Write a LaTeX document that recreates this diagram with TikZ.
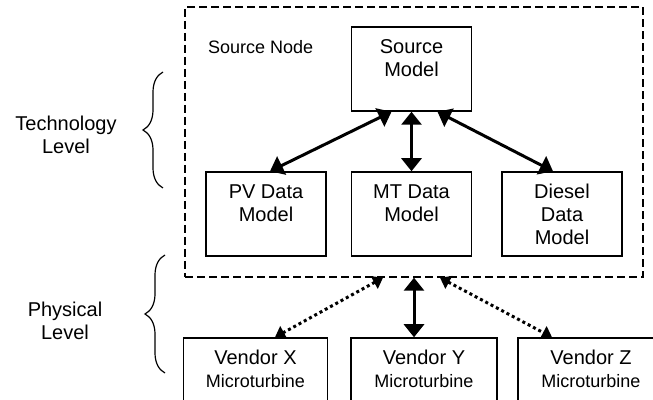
\documentclass[tikz,border=0pt]{standalone}
\usepackage{fontspec}
\setmainfont{Liberation Sans}
\usetikzlibrary{arrows.meta,decorations.pathreplacing}

\begin{document}
\begin{tikzpicture}[x=0.5pt, y=-0.5pt, every node/.style={font=\fontsize{10}{11.5}\selectfont},
	model/.style={draw, line width=0.75pt, minimum width=60pt, minimum height=42pt, inner sep=0pt},
	vendor/.style={draw, line width=0.75pt, minimum width=72pt, minimum height=41pt, inner sep=0pt},
	txt/.style={anchor=north, align=center, yshift=-3pt},
	small/.style={font=\fontsize{9}{10}\selectfont},
	link/.style={line width=1.5pt, {Triangle[width=10pt,length=6.5pt]}-{Triangle[width=10pt,length=6.5pt]}},
	dlink/.style={line width=1.5pt, dash pattern=on 1.5pt off 1.5pt, {Triangle[width=7pt,length=5pt]}-{Triangle[width=7pt,length=5pt]}},
	brc/.style={decorate, decoration={brace, amplitude=10pt}, line width=0.6pt}]
	\useasboundingbox (0,0) rectangle (653,400);
	\clip (0,0) rectangle (653,400);
	% source node frame
	\node[draw, dash pattern=on 4pt off 2pt, line width=0.7pt, minimum width=229pt, minimum height=135pt, inner sep=0pt] (frame) at (414,142) {};
	\node[small, anchor=west] (srcnode) at (201,47) {Source Node};
	% technology level
	\node[model, label={[txt]north:Source\\Model}] (src) at (411.5,69) {};
	\node[model, label={[txt]north:PV Data\\Model}] (pv) at (266,214) {};
	\node[model, label={[txt]north:MT Data\\Model}] (mt) at (411.5,214) {};
	\node[model, label={[txt]north:Diesel\\Data\\Model}] (dsl) at (562,214) {};
	% physical level
	\node[vendor, label={[txt]north:Vendor X\\{\fontsize{9}{10}\selectfont Microturbine}}] (vx) at (255.5,379) {};
	\node[vendor, minimum width=73pt, label={[txt]north:Vendor Y\\{\fontsize{9}{10}\selectfont Microturbine}}] (vy) at (424,379) {};
	\node[vendor, minimum width=73pt, label={[txt]north:Vendor Z\\{\fontsize{9}{10}\selectfont Microturbine}}] (vz) at (591,379) {};
	\coordinate (vyin) at (frame.south |- vy.north);
	% links
	\draw[link] ([xshift=-10pt]src.south) -- ([xshift=2pt]pv.north);
	\draw[link] (src) -- (mt);
	\draw[link] ([xshift=13pt]src.south) -- ([xshift=-4.5pt]dsl.north);
	\draw[dlink] ([xshift=-15.5pt]frame.south) -- ([xshift=9.75pt]vx.north);
	\draw[link] (frame.south) -- (vyin);
	\draw[dlink] ([xshift=13pt]frame.south) -- ([xshift=-19.5pt]vz.north);
	% levels
	\draw[brc] (163,188) -- (163,72);
	\draw[brc] (165,373) -- (165,255);
	\node[align=center] (tech) at (66,135) {Technology\\Level};
	\node[align=center] (phys) at (65,321) {Physical\\Level};
\end{tikzpicture}
\end{document}
